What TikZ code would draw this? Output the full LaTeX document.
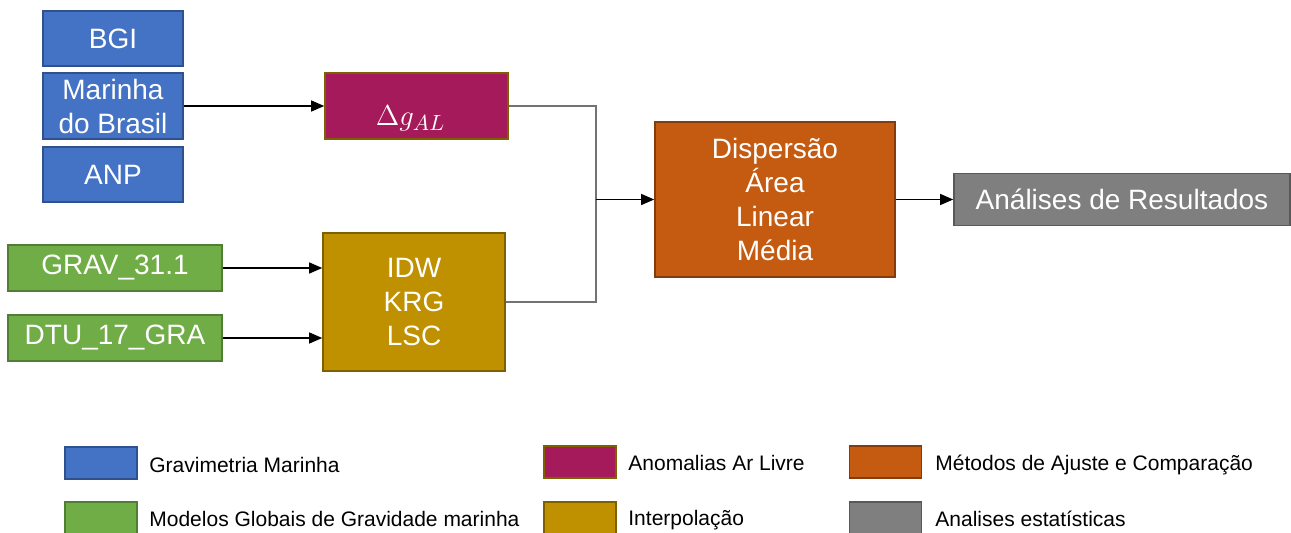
\documentclass[tikz,border=0pt]{standalone}
\usepackage{fontspec}
\setmainfont{Liberation Sans}
\usetikzlibrary{arrows.meta}

\definecolor{blueF}{HTML}{4472C4}
\definecolor{blueD}{HTML}{2F528F}
\definecolor{greenF}{HTML}{70AD47}
\definecolor{greenD}{HTML}{507E32}
\definecolor{berryF}{HTML}{A51A5A}
\definecolor{goldF}{HTML}{BF9000}
\definecolor{goldD}{HTML}{7F6000}
\definecolor{rustF}{HTML}{C55A11}
\definecolor{rustD}{HTML}{843C0C}
\definecolor{greyF}{HTML}{7F7F7F}
\definecolor{greyD}{HTML}{595959}

\begin{document}
\begin{tikzpicture}[x=0.5pt, y=-0.5pt,
    >={Triangle[length=6.5pt,width=5.5pt]},
    box/.style = {
      draw,
      line width = 0.8pt,
      text = white,
      align = center,
      inner sep = 0pt,
      font = \fontsize{14}{17}\selectfont
    },
    swatch/.style = {
      draw,
      line width = 0.8pt,
      minimum width = 36pt,
      minimum height = 16pt,
      inner sep = 0pt
    },
    key/.style = {
      anchor = west,
      inner sep = 0pt,
      text height = 7.5pt,
      text depth = 0pt,
      font = \fontsize{10.5}{12}\selectfont
    },
    link/.style = {line width = 0.6pt}
  ]
  \useasboundingbox (0,0) rectangle (1291,533);

  % gravimetria marinha
  \node[box, fill=blueF, draw=blueD, minimum width=70pt, minimum height=27.5pt]
    (bgi) at (113,38.5) {BGI};
  \node[box, fill=blueF, draw=blueD, minimum width=70pt, minimum height=33pt]
    (marinha) at (113,106) {Marinha\\do Brasil};
  \node[box, fill=blueF, draw=blueD, minimum width=70pt, minimum height=27.5pt]
    (anp) at (113,174.5) {ANP};

  % modelos globais
  \node[box, fill=greenF, draw=greenD, minimum width=107pt, minimum height=23pt]
    (grav) at (115,268) {GRAV\_31.1};
  \node[box, fill=greenF, draw=greenD, minimum width=107pt, minimum height=23pt]
    (dtu) at (115,338) {DTU\_17\_GRA};

  \node[box, fill=berryF, draw=goldD, minimum width=91.5pt, minimum height=33pt,
    label={[text=white, xshift=-3pt, yshift=-6pt, font=\fontsize{15}{17}\selectfont]center:$\Delta g_{AL}$}]
    (anomalia) at (416.5,106) {};
  \node[box, fill=goldF, draw=goldD, minimum width=91pt, minimum height=69pt]
    (interp) at (414,302) {IDW\\KRG\\LSC};

  \node[box, fill=rustF, draw=rustD, minimum width=120pt, minimum height=77.5pt]
    (metodos) at (775,199.5) {Dispers\~ao\\\'Area\\Linear\\M\'edia};
  \node[box, fill=greyF, draw=greyD, minimum width=168pt, minimum height=26pt]
    (analises) at (1122,199.5) {An\'alises de Resultados};

  \coordinate (jn) at (596,199.5);

  \draw[link, ->] (marinha.east) -- (anomalia.west);
  \draw[link, ->] (grav.east) -- (grav.east -| interp.west);
  \draw[link, ->] (dtu.east) -- (dtu.east -| interp.west);
  \draw[link, black!55] (anomalia.east) -| (jn);
  \draw[link, black!55] (interp.east) -| (jn);
  \draw[link, ->] (jn) -- (metodos.west);
  \draw[link, ->] (metodos.east) -- (metodos.east -| analises.west);

  % legenda
  \node[swatch, fill=blueF, draw=blueD] (kblue) at (101,463) {};
  \node[swatch, fill=greenF, draw=greenD] (kgreen) at (101,518) {};
  \node[swatch, fill=berryF, draw=goldD] (kberry) at (580,462) {};
  \node[swatch, fill=goldF, draw=goldD] (kgold) at (580,518) {};
  \node[swatch, fill=rustF, draw=rustD] (krust) at (885.5,462) {};
  \node[swatch, fill=greyF, draw=greyD] (kgrey) at (885.5,518) {};

  \node[key] (tblue) at (149,465) {Gravimetria Marinha};
  \node[key] (tgreen) at (149,519) {Modelos Globais de Gravidade marinha};
  \node[key] (tberry) at (628,463) {Anomalias Ar Livre};
  \node[key] (tgold) at (628,518) {Interpola\c{c}\~ao};
  \node[key] (trust) at (935,463) {M\'etodos de Ajuste e Compara\c{c}\~ao};
  \node[key] (tgrey) at (935,519) {Analises estat\'isticas};
\end{tikzpicture}
\end{document}
